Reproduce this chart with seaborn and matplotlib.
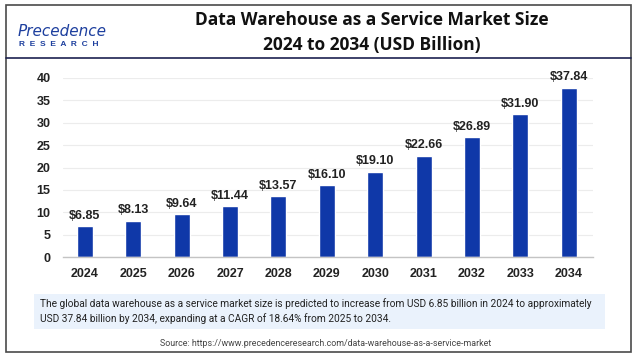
import matplotlib
matplotlib.use('Agg')
import matplotlib.pyplot as plt
import seaborn as sns
import pandas as pd
from matplotlib.patches import Rectangle
from matplotlib.lines import Line2D

years = ['2024', '2025', '2026', '2027', '2028', '2029', '2030', '2031', '2032', '2033', '2034']
values = [6.85, 8.13, 9.64, 11.44, 13.57, 16.10, 19.10, 22.66, 26.89, 31.90, 37.84]
yticks = [0, 5, 10, 15, 20, 25, 30, 35, 40]

title_1 = 'Data Warehouse as a Service Market Size'
title_2 = '2024 to 2034 (USD Billion)'
caption = ('The global data warehouse as a service market size is predicted to increase from USD 6.85 billion in 2024 to approximately\n'
           'USD 37.84 billion by 2034, expanding at a CAGR of 18.64% from 2025 to 2034.')
source = 'Source: https://www.precedenceresearch.com/data-warehouse-as-a-service-market'

df = pd.DataFrame({'year': years, 'value': values})

sns.set_theme(style='white')
plt.rcParams['font.family'] = ['Liberation Sans', 'DejaVu Sans']

W, H = 638, 362
fig = plt.figure(figsize=(W / 100, H / 100), dpi=100)
fig.patch.set_facecolor('white')

def fx(px):
    return px / W

def fy(py):
    return 1 - py / H

# outer frame and header divider
fig.add_artist(Rectangle((fx(6), fy(352)), fx(631) - fx(6), fy(5) - fy(352), transform=fig.transFigure,
                         fill=False, edgecolor='#4a4a4a', linewidth=1.2))
fig.add_artist(Line2D([fx(6), fx(631)], [fy(58), fy(58)], transform=fig.transFigure, color='#1c2150', linewidth=1.2))

# logo
fig.text(fx(18), fy(31), 'Precedence', fontsize=11, color='#1d3f9e', fontstyle='italic',
         family=['DejaVu Sans'], va='center', ha='left')
fig.text(fx(19), fy(44), 'R  E  S  E  A  R  C  H', fontsize=6, color='#1d3f9e', fontweight='bold',
         va='center', ha='left')

# title
fig.text(fx(372), fy(20), title_1, fontsize=12.5, fontweight='bold', family=['Open Sans', 'DejaVu Sans'],
         ha='center', va='center', color='#111111')
fig.text(fx(372), fy(45), title_2, fontsize=12.5, fontweight='bold', family=['Open Sans', 'DejaVu Sans'],
         ha='center', va='center', color='#111111')

# chart
ax = fig.add_axes([fx(63), fy(257), fx(593) - fx(63), fy(78) - fy(257)])
sns.barplot(data=df, x='year', y='value', color='#0f38a8', saturation=1, width=0.33, ax=ax)
ax.set_xlim(-0.45, 10.5)
ax.set_ylim(0, 40)
ax.set_yticks(yticks)
ax.set_xlabel('')
ax.set_ylabel('')
ax.grid(axis='y', color='#ececec', linewidth=0.8)
ax.set_axisbelow(True)
for s in ['top', 'right', 'left']:
    ax.spines[s].set_visible(False)
ax.spines['bottom'].set_color('#c4c4c4')
ax.spines['bottom'].set_linewidth(1.0)
ax.tick_params(axis='y', length=0, pad=9, labelsize=9)
ax.tick_params(axis='x', length=0, pad=8, labelsize=9)
for lab in ax.get_xticklabels() + ax.get_yticklabels():
    lab.set_fontweight('bold')
    lab.set_color('#222222')

for i, v in enumerate(values):
    ax.annotate(f'${v:.2f}', (i, v), xytext=(0, 3), textcoords='offset points', ha='center', va='bottom',
                fontsize=9, fontweight='bold', color='#222222', annotation_clip=False)

# caption box
fig.add_artist(Rectangle((fx(34), fy(329)), fx(605) - fx(34), fy(294) - fy(329), transform=fig.transFigure,
                         facecolor='#eaf2fc', edgecolor='none'))
fig.text(fx(40), fy(311), caption, fontsize=7.3, family=['Roboto', 'DejaVu Sans'], ha='left', va='center',
         color='#222222', linespacing=1.5)
fig.text(fx(326), fy(343), source, fontsize=6.4, family=['Roboto', 'DejaVu Sans'], ha='center', va='center',
         color='#444444')

fig.savefig('out.png', dpi=100)
